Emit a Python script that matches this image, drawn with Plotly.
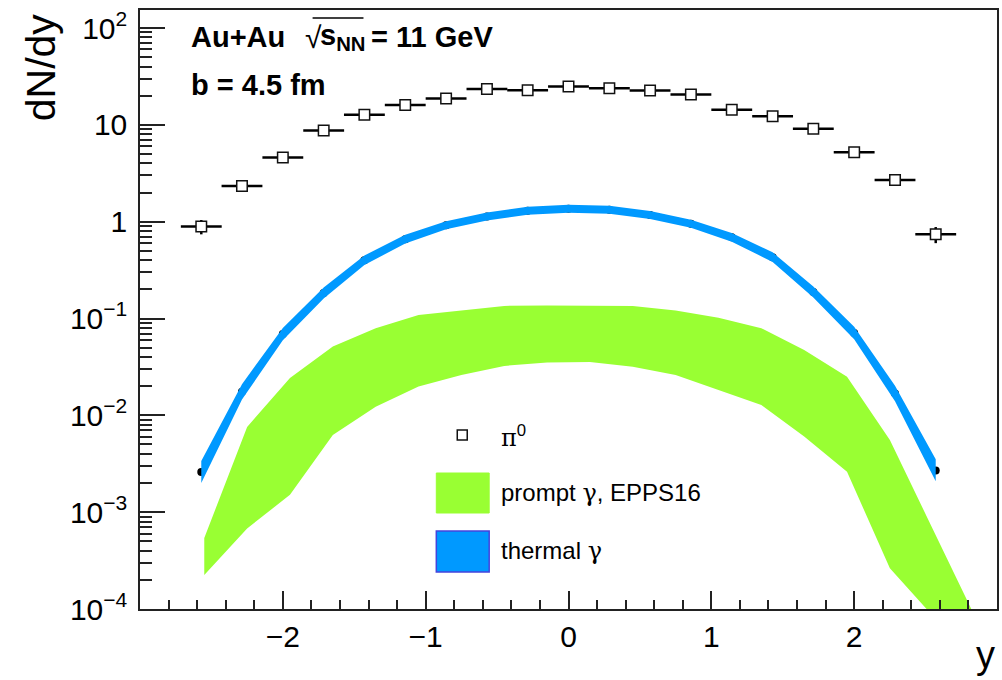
import plotly.graph_objects as go

# ---------------- data ----------------
pi0_y = [-2.571, -2.286, -2.0, -1.714, -1.429, -1.143, -0.857, -0.571, -0.286, 0.0,
         0.286, 0.571, 0.857, 1.143, 1.429, 1.714, 2.0, 2.286, 2.571]
pi0_dndy = [0.89, 2.34, 4.59, 8.73, 12.7, 16.0, 18.7, 23.4, 22.7, 24.9,
            23.9, 22.6, 20.6, 14.3, 12.3, 9.1, 5.2, 2.69, 0.74]
pi0_err = [0.15, 0.14, 0.2, 0.3, 0.4, 0.45, 0.5, 0.6, 0.6, 0.6,
           0.6, 0.6, 0.5, 0.4, 0.4, 0.3, 0.2, 0.14, 0.14]
pi0_xerr = [0.143] * 19

thermal_dndy = [0.0026, 0.0175, 0.069, 0.183, 0.40, 0.66, 0.92, 1.13, 1.30, 1.36,
                1.33, 1.17, 0.95, 0.69, 0.43, 0.188, 0.071, 0.0168, 0.0027]
thermal_hi = [0.00338, 0.0210, 0.0800, 0.2086, 0.448, 0.733, 1.012, 1.243, 1.43, 1.496,
              1.463, 1.287, 1.045, 0.766, 0.482, 0.2143, 0.0824, 0.0202, 0.00351]
thermal_lo = [0.00200, 0.01458, 0.0595, 0.1605, 0.357, 0.595, 0.836, 1.027, 1.182, 1.236,
              1.209, 1.064, 0.864, 0.622, 0.384, 0.1649, 0.0612, 0.0140, 0.00208]

prompt_y = [-2.55, -2.25, -1.95, -1.65, -1.35, -1.05, -0.75, -0.45, -0.15, 0.15,
            0.45, 0.75, 1.05, 1.35, 1.65, 1.95, 2.25, 2.55, 2.85]
prompt_hi = [5.4e-4, 7.6e-3, 0.0243, 0.0513, 0.0795, 0.109, 0.121, 0.135, 0.136, 0.136,
             0.135, 0.121, 0.102, 0.0795, 0.0474, 0.0251, 5.57e-3, 6.7e-4, 8.1e-5]
prompt_lo = [2.24e-4, 6.8e-4, 1.51e-3, 6.28e-3, 0.0123, 0.0198, 0.0261, 0.0324, 0.0351, 0.0356,
             0.0318, 0.0261, 0.0183, 0.0128, 6.03e-3, 2.62e-3, 2.63e-4, 8.5e-5, 2.0e-5]

x_ticks = [-2, -1, 0, 1, 2]
x_ticktext = ["\u22122", "\u22121", "0", "1", "2"]
y_ticks = [1e-4, 1e-3, 1e-2, 1e-1, 1, 10, 100]
y_ticktext = ["10<sup>\u22124</sup>", "10<sup>\u22123</sup>", "10<sup>\u22122</sup>",
              "10<sup>\u22121</sup>", "1", "10", "10<sup>2</sup>"]

GREEN = "#99FF33"
BLUE = "#0099FF"
FONT = "Liberation Sans"
GREEK = "<span style='font-family:DejaVu Serif'>\u03b3</span>"

# ---------------- geometry helpers (layout only) ----------------
W, H = 1002, 680
L, R, T, B = 140, 999, 10, 609


def px(x):
    return (x - L) / (R - L)


def py(y):
    return (B - y) / (B - T)


fig = go.Figure()

# prompt gamma band
fig.add_trace(go.Scatter(
    x=prompt_y + prompt_y[::-1], y=prompt_hi + prompt_lo[::-1],
    mode="lines", fill="toself", fillcolor=GREEN, line=dict(width=0, color=GREEN),
    hoverinfo="skip", showlegend=False))

# thermal gamma points (black dots, mostly hidden under band)
fig.add_trace(go.Scatter(
    x=pi0_y, y=thermal_dndy, mode="markers",
    marker=dict(symbol="circle", size=8, color="black"),
    showlegend=False))

# thermal gamma band
fig.add_trace(go.Scatter(
    x=pi0_y + pi0_y[::-1], y=thermal_hi + thermal_lo[::-1],
    mode="lines", fill="toself", fillcolor=BLUE, line=dict(width=0, color=BLUE),
    hoverinfo="skip", showlegend=False))

# pi0
fig.add_trace(go.Scatter(
    x=pi0_y, y=pi0_dndy, mode="markers",
    marker=dict(symbol="square", size=10.5, color="white", line=dict(color="#111", width=1.5)),
    error_x=dict(type="data", array=pi0_xerr, thickness=2.5, width=0, color="black"),
    error_y=dict(type="data", array=pi0_err, thickness=2.5, width=0, color="black"),
    showlegend=False))

minor_y = [k * 10 ** n for n in range(-4, 3) for k in range(2, 10)]

fig.update_layout(
    width=W, height=H,
    margin=dict(l=L, r=W - R, t=T, b=H - B, pad=0),
    paper_bgcolor="white", plot_bgcolor="white",
    font=dict(family=FONT, color="black"),
    showlegend=False,
    xaxis=dict(
        range=[-3, 3], showgrid=False, zeroline=False,
        showline=True, linecolor="#222", linewidth=1.5, mirror=True,
        ticks="inside", ticklen=18, tickwidth=1.5, tickcolor="#222",
        tickvals=x_ticks, ticktext=x_ticktext,
        tickfont=dict(size=30, family=FONT, color="black"),
        ticklabelstandoff=0,
        minor=dict(ticks="inside", ticklen=9, tickwidth=1.5, tickcolor="#222",
                   dtick=0.2, tick0=0, showgrid=False),
    ),
    yaxis=dict(
        type="log", range=[-4, 2.186], showgrid=False, zeroline=False,
        showline=True, linecolor="#222", linewidth=1.5, mirror=True,
        ticks="inside", ticklen=25, tickwidth=1.5, tickcolor="#222",
        tickvals=y_ticks, ticktext=y_ticktext,
        tickfont=dict(size=30, family=FONT, color="black"),
        ticklabelstandoff=5,
        minor=dict(ticks="inside", ticklen=12, tickwidth=1.5, tickcolor="#222",
                   tickvals=minor_y, showgrid=False),
    ),
)

ann = []
# axis titles
ann.append(dict(x=px(41), y=py(67), xref="paper", yref="paper", text="dN/dy",
                textangle=-90, showarrow=False, xanchor="center", yanchor="middle",
                font=dict(size=41, family=FONT)))
ann.append(dict(x=px(999), y=py(655), xref="paper", yref="paper", text="y",
                showarrow=False, xanchor="right", yanchor="middle",
                font=dict(size=38, family=FONT)))
# header texts
ann.append(dict(x=px(189), y=py(37), xref="paper", yref="paper", text="<b>Au+Au</b>",
                showarrow=False, xanchor="left", yanchor="middle", font=dict(size=29, family=FONT)))
ann.append(dict(x=px(303), y=py(37), xref="paper", yref="paper", text="\u221a",
                showarrow=False, xanchor="left", yanchor="middle", font=dict(size=30, family=FONT)))
ann.append(dict(x=px(318), y=py(37), xref="paper", yref="paper", text="<b>s<sub>NN</sub></b>",
                showarrow=False, xanchor="left", yanchor="middle", font=dict(size=29, family=FONT)))
ann.append(dict(x=px(370), y=py(37), xref="paper", yref="paper", text="<b>= 11 GeV</b>",
                showarrow=False, xanchor="left", yanchor="middle", font=dict(size=29, family=FONT)))
ann.append(dict(x=px(189), y=py(85), xref="paper", yref="paper", text="<b>b = 4.5 fm</b>",
                showarrow=False, xanchor="left", yanchor="middle", font=dict(size=29, family=FONT)))
# legend texts
ann.append(dict(x=px(500), y=py(436), xref="paper", yref="paper",
                text="<span style='font-family:DejaVu Serif'>\u03c0</span><sup>0</sup>",
                showarrow=False, xanchor="left", yanchor="middle", font=dict(size=24, family=FONT)))
ann.append(dict(x=px(500), y=py(493), xref="paper", yref="paper", text="prompt " + GREEK + ", EPPS16",
                showarrow=False, xanchor="left", yanchor="middle", font=dict(size=24, family=FONT)))
ann.append(dict(x=px(500), y=py(551), xref="paper", yref="paper", text="thermal " + GREEK,
                showarrow=False, xanchor="left", yanchor="middle", font=dict(size=24, family=FONT)))
fig.update_layout(annotations=ann)

shapes = []
# overline of sqrt
shapes.append(dict(type="line", xref="paper", yref="paper", x0=px(313), x1=px(364), y0=py(18), y1=py(18),
                   line=dict(color="black", width=1.5)))
# legend swatches
shapes.append(dict(type="rect", xref="paper", yref="paper", x0=px(458), x1=px(468), y0=py(440), y1=py(430),
                   line=dict(color="#111", width=1.5), fillcolor="white"))
shapes.append(dict(type="rect", xref="paper", yref="paper", x0=px(437), x1=px(490), y0=py(513), y1=py(473),
                   line=dict(color=GREEN, width=1), fillcolor=GREEN))
shapes.append(dict(type="rect", xref="paper", yref="paper", x0=px(437), x1=px(490), y0=py(572), y1=py(531),
                   line=dict(color="#4444DD", width=1.5), fillcolor=BLUE))
fig.update_layout(shapes=shapes)

fig.write_html("out.html")
